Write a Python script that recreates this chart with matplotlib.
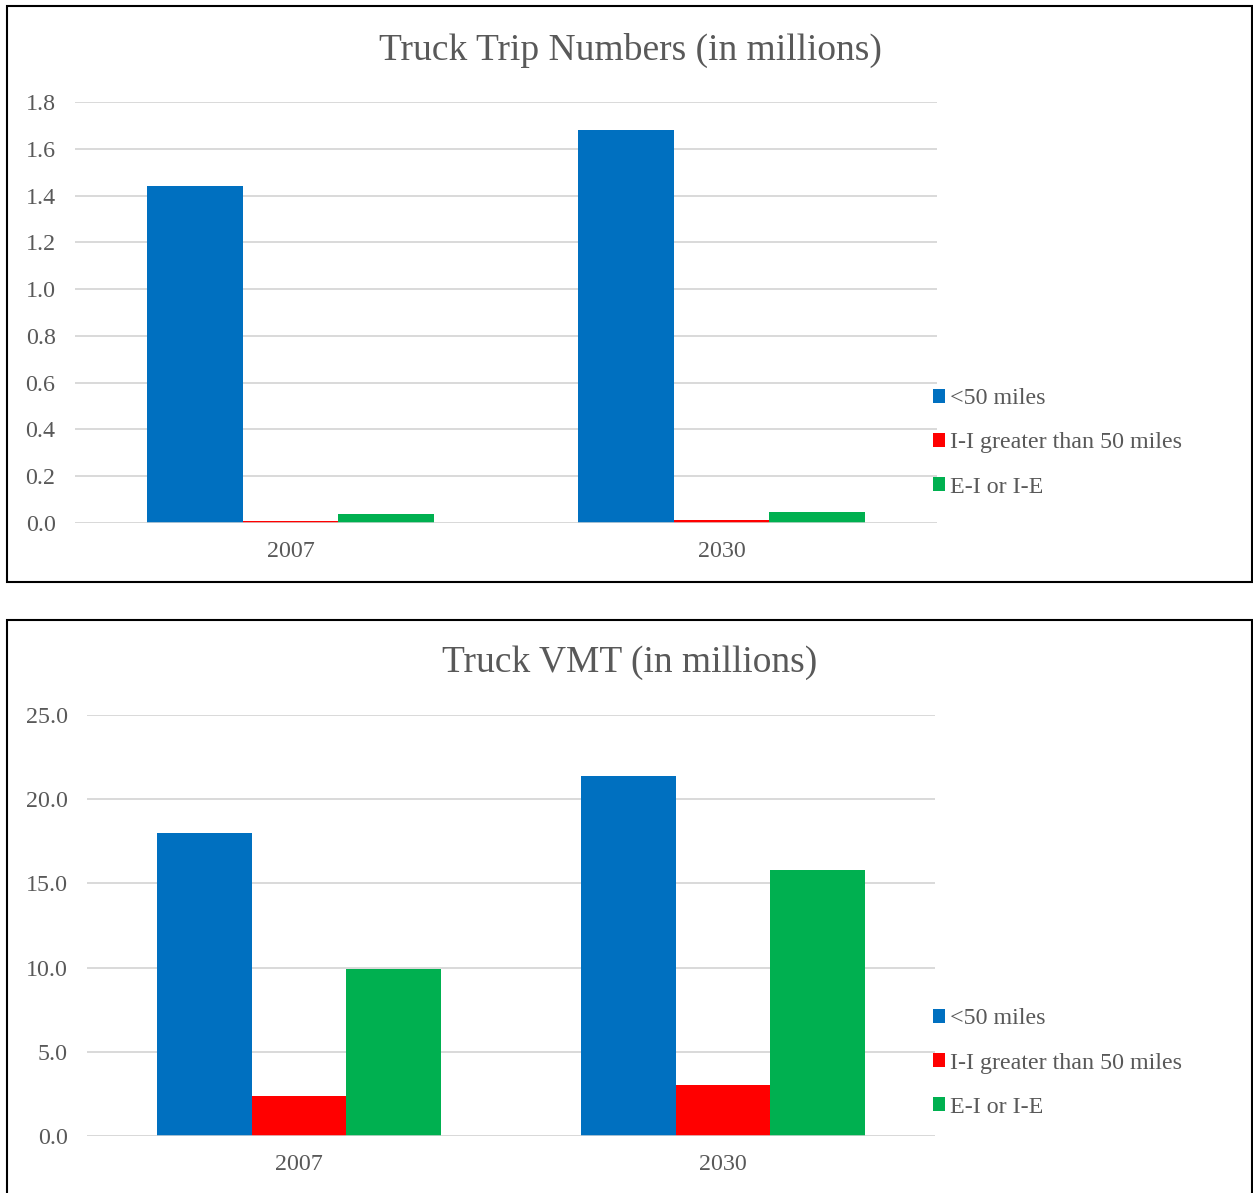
import matplotlib
matplotlib.use("Agg")
import matplotlib.pyplot as plt
from matplotlib.patches import Rectangle, Patch
import numpy as np

plt.rcParams["font.family"] = ["Liberation Serif", "DejaVu Serif"]

# values (millions)
years = ["2007", "2030"]
series = ["<50 miles", "I-I greater than 50 miles", "E-I or I-E"]
trips_short = [1.44, 1.68]
trips_ii = [0.009, 0.012]
trips_ei = [0.038, 0.047]
vmt_short = [18.0, 21.4]
vmt_ii = [2.4, 3.0]
vmt_ei = [9.9, 15.8]
trip_ticks = [0.0, 0.2, 0.4, 0.6, 0.8, 1.0, 1.2, 1.4, 1.6, 1.8]
vmt_ticks = [0.0, 5.0, 10.0, 15.0, 20.0, 25.0]

COLORS = ["#0070C0", "#FF0000", "#00B050"]
TXT = "#595959"
GRID = "#D9D9D9"
W, H = 1253, 1193
FS = 17.3

fig = plt.figure(figsize=(W / 100, H / 100), dpi=100)


def fx(px):
    return px / W


def fy(py):
    return 1 - py / H


def panel(rect, title, title_y, data, ticks, fmt, legend_y):
    ax = fig.add_axes(rect)
    x = np.arange(len(years))
    bw = 0.2225
    for i, (vals, c) in enumerate(zip(data, COLORS)):
        ax.bar(x + (i - 1) * bw, vals, width=bw, color=c, linewidth=0, zorder=3)
    ax.set_xlim(-0.5, len(years) - 0.5)
    ax.set_ylim(ticks[0], ticks[-1])
    ax.set_yticks(ticks)
    ax.set_yticklabels([fmt.format(t) for t in ticks])
    ax.set_xticks(x)
    ax.set_xticklabels(years)
    ax.tick_params(length=0, labelsize=FS, colors=TXT)
    ax.tick_params(axis="y", pad=14)
    ax.tick_params(axis="x", pad=13)
    ax.grid(axis="y", color=GRID, lw=1.4, zorder=0)
    for s in ax.spines.values():
        s.set_visible(False)
    ax.axhline(0, color=GRID, lw=1.8, zorder=4)
    fig.text(fx(630), fy(title_y), title, ha="center", va="center",
             fontsize=27, color=TXT)
    handles = [Patch(facecolor=c, edgecolor="none") for c in COLORS]
    fig.legend(handles, series, loc="center left",
               bbox_to_anchor=(fx(933), fy(legend_y)), frameon=False,
               fontsize=FS, labelcolor=TXT, handlelength=0.5, handleheight=0.5,
               handletextpad=0.2, labelspacing=0.97, borderpad=0,
               borderaxespad=0)
    return ax


panel([fx(75), fy(523), fx(937) - fx(75), fy(102) - fy(523)],
      "Truck Trip Numbers (in millions)", 50,
      [trips_short, trips_ii, trips_ei], trip_ticks, "{:.1f}", 443)

panel([fx(87), fy(1136), fx(935) - fx(87), fy(715) - fy(1136)],
      "Truck VMT (in millions)", 663,
      [vmt_short, vmt_ii, vmt_ei], vmt_ticks, "{:.1f}", 1063)

# black frames around each chart
fig.add_artist(Rectangle((fx(7), fy(582)), fx(1252) - fx(7), fy(6) - fy(582),
                         transform=fig.transFigure, fill=False, edgecolor="black",
                         lw=1.5, clip_on=False))
fig.add_artist(Rectangle((fx(7), fy(1210)), fx(1252) - fx(7), fy(620) - fy(1210),
                         transform=fig.transFigure, fill=False, edgecolor="black",
                         lw=1.5, clip_on=False))

fig.savefig("out.png", dpi=100, facecolor="white")
